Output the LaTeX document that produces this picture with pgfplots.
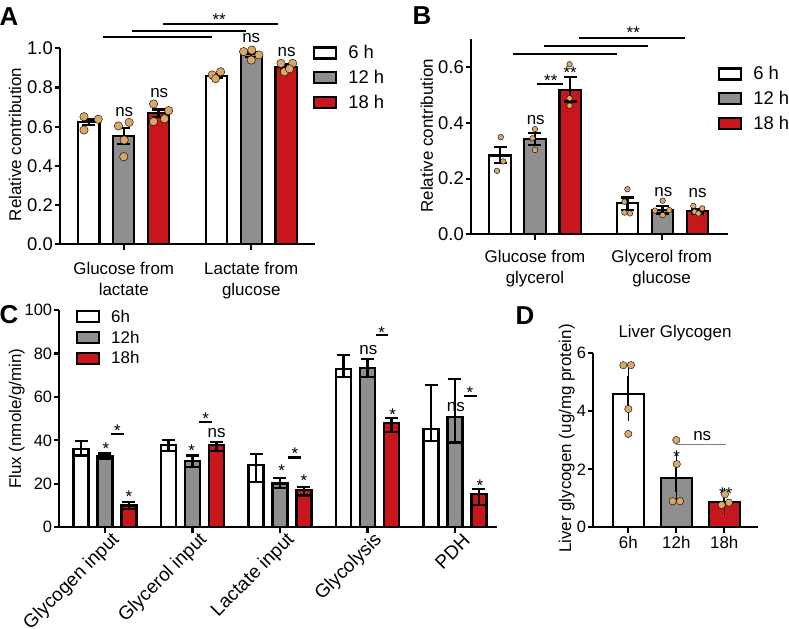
\documentclass[border=0pt]{standalone}
\usepackage{fontspec}
\setmainfont{Liberation Sans}
\usepackage{pgfplots}
\pgfplotsset{compat=1.18}

\definecolor{barred}{HTML}{C8161D}
\definecolor{bargray}{HTML}{8E8E90}
\definecolor{dotc}{HTML}{D9A766}
\newcommand\fs{\fontsize{17}{21}\selectfont}
\newcommand\fb{\fontsize{18.5}{22}\selectfont}
\newcommand\fsm{\fontsize{16.5}{20}\selectfont}

\pgfplotsset{
  gp/.style={
    scale only axis, anchor=south west, clip=false,
    axis x line=bottom, axis y line=left,
    axis line style={-, line width=2.2bp},
    tick style={black, line width=2.2bp},
    tick align=outside, major tick length=5.5bp,
    font=\fs, tick label style={font=\fs},
    /pgf/number format/assume math mode=true,
    yticklabel style={inner xsep=1.5bp},
    legend style={draw=none, fill=none, font=\fs, inner sep=0pt, legend cell align=left},
    legend image code/.code={\draw[##1, line width=2.2bp] (0bp,-5.5bp) rectangle (22bp,5.5bp);
      \path[draw=none, fill=none] (0bp,0bp) -- (32bp,0bp);},
  },
  bars/.style={forget plot, ybar, bar shift=0pt, bar width=#1, draw=black, line width=2.2bp,
    /pgfplots/error bars/y dir=both, /pgfplots/error bars/y explicit,
    /pgfplots/error bars/error bar style={line width=2.2bp, black},
    /pgfplots/error bars/error mark options={line width=2.2bp, black, mark size=6.5bp, rotate=90}},
  dots/.style={forget plot, only marks, mark=*, mark size=#1, mark options={fill=dotc, draw=none}},
}
\tikzset{
  star/.style={font=\fs, anchor=center, yshift=-3.6bp, inner sep=0pt},
  nsl/.style={font=\fs, anchor=center, inner sep=0pt},
  sig/.style={line width=2.2bp},
}

\begin{document}
\begin{tikzpicture}[x=1bp, y=1bp]
\useasboundingbox (0,0) rectangle (789,629);

% ---------------- A
\begin{axis}[gp, at={(60bp,384.7bp)}, width=255bp, height=196bp,
  xmin=-0.5, xmax=1.5, ymin=0, ymax=1,
  ytick={0,0.2,0.4,0.6,0.8,1},
  yticklabel style={font=\fb, /pgf/number format/.cd, fixed, fixed zerofill, precision=1},
  xtick={0,1}, xticklabels={{Glucose from\\lactate},{Lactate from\\glucose}},
  xticklabel style={align=center, yshift=-9bp},
  ylabel={Relative contribution},
  ylabel style={at={(axis description cs:-0.176,0.51)}, anchor=center},
  legend style={font=\fb, at={(0.992,1.025)}, anchor=north west, row sep=6bp}]
\addlegendimage{fill=white, draw=black}
\addlegendimage{fill=bargray, draw=black}
\addlegendimage{fill=barred, draw=black}
\legend{6 h, 12 h, 18 h}
\addplot[bars=0.167, fill=white] coordinates {(-0.273,0.622) +- (0,0.015) (0.727,0.86) +- (0,0.01)};
\addplot[bars=0.167, fill=bargray] coordinates {(0,0.552) +- (0,0.04) (1,0.969) +- (0,0.012)};
\addplot[bars=0.167, fill=barred] coordinates {(0.273,0.668) +- (0,0.02) (1.273,0.906) +- (0,0.012)};
\addplot[dots=4.2bp] coordinates {
 (-0.312,0.651) (-0.2,0.638) (-0.312,0.583)
 (-0.042,0.604) (0.042,0.622) (0,0.447) (0.003,0.532)
 (0.234,0.716) (0.352,0.682) (0.234,0.626) (0.32,0.64)
 (0.694,0.864) (0.76,0.88) (0.72,0.845)
 (0.94,0.983) (1.004,0.991) (1,0.94) (1.06,0.966)
 (1.233,0.923) (1.325,0.923) (1.26,0.88) (1.3,0.895)};
\draw[sig] (axis cs:-0.166,1.056) -- (axis cs:0.696,1.056);
\draw[sig] (axis cs:0.061,1.088) -- (axis cs:0.958,1.088);
\draw[sig] (axis cs:0.304,1.124) -- (axis cs:1.206,1.124);
\node[star] at (axis cs:0.749,1.165) {**};
\node[nsl] at (axis cs:0.004,0.677) {ns};
\node[nsl] at (axis cs:0.278,0.770) {ns};
\node[nsl] at (axis cs:1.0,1.054) {ns};
\node[nsl] at (axis cs:1.277,0.983) {ns};
\end{axis}

% ---------------- B
\begin{axis}[gp, at={(471bp,394.7bp)}, width=257.3bp, height=194.8bp,
  xmin=-0.505, xmax=1.526, ymin=0, ymax=0.7,
  ytick={0,0.2,0.4,0.6},
  yticklabel style={font=\fb, /pgf/number format/.cd, fixed, fixed zerofill, precision=1},
  xtick={0,1}, xticklabels={{Glucose from\\glycerol},{Glycerol from\\glucose}},
  xticklabel style={align=center, yshift=-7bp},
  ylabel={Relative contribution},
  ylabel style={at={(axis description cs:-0.172,0.506)}, anchor=center},
  legend style={font=\fb, at={(0.96,0.872)}, anchor=north west, row sep=6bp}]
\addlegendimage{fill=white, draw=black}
\addlegendimage{fill=bargray, draw=black}
\addlegendimage{fill=barred, draw=black}
\legend{6 h, 12 h, 18 h}
\addplot[bars=0.17, fill=white] coordinates {(-0.275,0.283) += (0,0.032) -= (0,0.028) (0.73,0.111) += (0,0.021) -= (0,0.024)};
\addplot[bars=0.17, fill=bargray] coordinates {(0,0.341) += (0,0.022) -= (0,0.02) (1.006,0.087) += (0,0.016) -= (0,0.012)};
\addplot[bars=0.17, fill=barred] coordinates {(0.279,0.519) += (0,0.045) -= (0,0.042) (1.283,0.084) += (0,0.008) -= (0,0.009)};
\addplot[dots=2.8bp] coordinates {
 (-0.27,0.349) (-0.3,0.228) (-0.25,0.262)
 (0,0.378) (0,0.303) (-0.02,0.345)
 (0.273,0.611) (0.273,0.489) (0.273,0.462)
 (0.73,0.162) (0.706,0.117) (0.706,0.078) (0.75,0.075)
 (1.008,0.121) (0.947,0.085) (1.06,0.087) (1.008,0.069)
 (1.25,0.102) (1.32,0.093) (1.26,0.081) (1.29,0.075)};
\draw[sig] (axis cs:-0.176,0.648) -- (axis cs:0.645,0.648);
\draw[sig] (axis cs:0.073,0.677) -- (axis cs:0.889,0.677);
\draw[sig] (axis cs:0.35,0.704) -- (axis cs:1.184,0.704);
\node[star] at (axis cs:0.776,0.737) {**};
\draw[sig] (axis cs:0.018,0.539) -- (axis cs:0.224,0.539);
\node[star] at (axis cs:0.125,0.565) {**};
\node[star] at (axis cs:0.278,0.593) {**};
\node[nsl] at (axis cs:0.006,0.411) {ns};
\node[nsl] at (axis cs:1.013,0.153) {ns};
\node[nsl] at (axis cs:1.284,0.147) {ns};
\end{axis}

% ---------------- C
\begin{axis}[gp, at={(59.3bp,101.7bp)}, width=437.4bp, height=217.3bp,
  xmin=-0.522, xmax=4.477, ymin=0, ymax=100,
  ytick={0,20,40,60,80,100},
  yticklabel style={font=\fsm},
  xtick={0,1,2,3,4},
  xticklabels={Glycogen input, Glycerol input, Lactate input, Glycolysis, PDH},
  xticklabel style={xshift=14bp, yshift=-2bp, rotate=45, anchor=east, font=\fontsize{19}{22}\selectfont},
  ylabel={Flux (nmole/g/min)},
  ylabel style={at={(axis description cs:-0.0974,0.5)}, anchor=center},
  legend style={at={(0.038,1.01)}, anchor=north west, row sep=3bp}]
\addlegendimage{fill=white, draw=black}
\addlegendimage{fill=bargray, draw=black}
\addlegendimage{fill=barred, draw=black}
\legend{6h, 12h, 18h}
\addplot[bars=0.171, fill=white] coordinates {
 (-0.274,36.0) += (0,3.7) -= (0,3.0)
 (0.726,37.9) += (0,2.4) -= (0,2.8)
 (1.726,28.7) += (0,5.2) -= (0,8.0)
 (2.726,72.7) += (0,6.6) -= (0,3.4)
 (3.726,45.2) += (0,20.3) -= (0,5.5)};
\addplot[bars=0.171, fill=bargray] coordinates {
 (0,32.8) += (0,1.2) -= (0,1.1)
 (1,30.5) += (0,2.5) -= (0,2.7)
 (2,20.2) += (0,2.5) -= (0,2.1)
 (3,73.2) += (0,4.1) -= (0,3.9)
 (4,50.8) += (0,17.3) -= (0,11.8)};
\addplot[bars=0.171, fill=barred] coordinates {
 (0.274,10.0) += (0,1.5) -= (0,1.6)
 (1.274,37.9) += (0,1.2) -= (0,2.9)
 (2.274,17.2) += (0,1.4) -= (0,2.6)
 (3.274,47.9) += (0,2.3) -= (0,3.9)
 (4.274,15.2) += (0,2.3) -= (0,4.9)};
\node[star] at (axis cs:0.011,37.9) {*};
\node[star] at (axis cs:0.274,15.6) {*};
\draw[sig] (axis cs:0.069,42.8) -- (axis cs:0.217,42.8);
\node[star] at (axis cs:0.141,46.3) {*};
\node[star] at (axis cs:0.99,37.1) {*};
\draw[sig] (axis cs:1.074,48.3) -- (axis cs:1.226,48.3);
\node[star] at (axis cs:1.15,51.7) {*};
\node[nsl] at (axis cs:1.276,43.6) {ns};
\node[star] at (axis cs:2.019,27.9) {*};
\node[star] at (axis cs:2.274,23.3) {*};
\draw[sig] (axis cs:2.095,32.1) -- (axis cs:2.236,32.1);
\node[star] at (axis cs:2.171,35.6) {*};
\node[nsl] at (axis cs:3.01,81.6) {ns};
\node[star] at (axis cs:3.288,53.5) {*};
\draw[sig] (axis cs:3.094,88.5) -- (axis cs:3.238,88.5);
\node[star] at (axis cs:3.162,91.1) {*};
\node[nsl] at (axis cs:4.011,55.5) {ns};
\node[star] at (axis cs:4.286,21.0) {*};
\draw[sig] (axis cs:4.103,60.4) -- (axis cs:4.248,60.4);
\node[star] at (axis cs:4.171,63.5) {*};
\end{axis}

% ---------------- D
\begin{axis}[gp, at={(593.3bp,101.7bp)}, width=165bp, height=174bp,
  xmin=-0.73, xmax=2.71, ymin=0, ymax=6,
  ytick={0,2,4,6},
  yticklabel style={font=\fsm},
  xtick={0,1,2}, xticklabels={6h, 12h, 18h},
  title={Liver Glycogen},
  title style={at={(axis description cs:0.495,1.08)}, anchor=center},
  ylabel={Liver glycogen (ug/mg protein)},
  ylabel style={at={(axis description cs:-0.161,0.51)}, anchor=center}]
\addplot[bars=0.652, fill=white, /pgfplots/error bars/error mark options={mark size=10bp}] coordinates {(0,4.6) += (0,0.6) -= (0,0.58)};
\addplot[bars=0.652, fill=bargray, /pgfplots/error bars/error mark options={mark size=10bp}] coordinates {(1,1.71) += (0,0.55) -= (0,0.48)};
\addplot[bars=0.652, fill=barred, /pgfplots/error bars/error mark options={mark size=10bp}] coordinates {(2,0.885) += (0,0.135) -= (0,0.115)};
\addplot[dots=3.7bp] coordinates {
 (-0.104,5.59) (0.056,5.59) (0,4.08) (0,3.22)
 (1,3.01) (1.01,2.18) (0.925,0.9) (1.077,0.9)
 (2.015,1.14) (1.946,0.77) (2.098,0.85)};
\node[star] at (axis cs:1.008,2.55) {*};
\node[star] at (axis cs:2.03,1.29) {**};
\draw[line width=1.2bp, gray] (axis cs:0.99,2.86) -- (axis cs:2.03,2.86);
\node[nsl] at (axis cs:1.54,3.16) {ns};
\end{axis}

\node[font=\fontsize{26}{30}\selectfont\bfseries] at (9,612) {A};
\node[font=\fontsize{26}{30}\selectfont\bfseries] at (422,613) {B};
\node[font=\fontsize{26}{30}\selectfont\bfseries] at (9,314) {C};
\node[font=\fontsize{26}{30}\selectfont\bfseries] at (525,313) {D};
\end{tikzpicture}
\end{document}
